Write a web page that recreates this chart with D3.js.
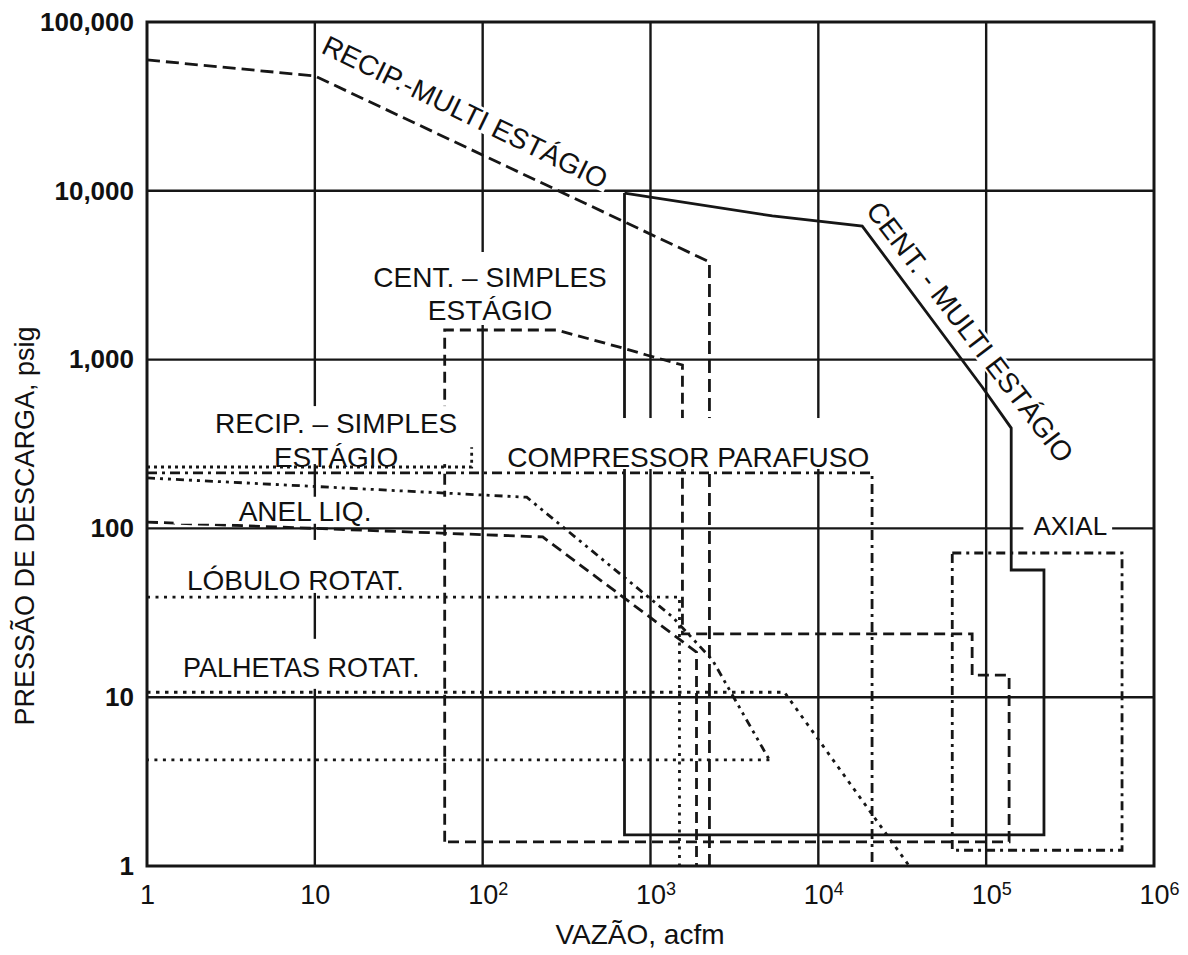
<!DOCTYPE html>
<html>
<head>
<meta charset="utf-8">
<script src="https://cdn.jsdelivr.net/npm/d3@7"></script>
<style>
  body { margin: 0; background: #fff; }
  text { font-family: "Liberation Sans", Arial, sans-serif; fill: #111; }
</style>
</head>
<body>
<svg id="chart" width="1188" height="955"></svg>
<script>
// Axis ticks
const xTicks = [1, 10, 100, 1000, 10000, 100000, 1000000];
const yTicks = [1, 10, 100, 1000, 10000, 100000];
const yTickLabels = ["1", "10", "100", "1,000", "10,000", "100,000"];

// Application envelopes, [flow acfm, discharge pressure psig]
const recipMulti = [[1, 59600], [10, 47900], [2245, 3790], [2245, 1]];
const centMulti = [[700, 9700], [5320, 7100], [18270, 6180], [94700, 688], [141000, 393],
  [141000, 56.7], [221000, 56.7], [221000, 1.53], [700, 1.53], [700, 9700]];
const centSimple = [[59.4, 1.39], [59.4, 1497], [276, 1497], [681, 1172], [946, 1065], [1550, 929],
  [1550, 23.7], [82500, 23.7], [82500, 13.5], [137000, 13.5], [137000, 1.39], [59.4, 1.39]];
const recipSimpleTop = [[1, 199], [183, 153], [1352, 29.9], [2340, 16.6], [5110, 4.25]];
const recipSimpleBase = [[5110, 4.25], [1, 4.25]];
const recipSimpleEdge = [[1, 231], [86, 231], [86, 303]];
const liquidRing = [[1, 109], [228, 89], [1880, 18.5], [1880, 1]];
const rotaryLobe = [[1, 39.2], [1488, 39.2], [1488, 1]];
const rotaryVane = [[1, 10.7], [6280, 10.7], [34800, 1]];
const screw = [[1, 213], [20900, 213], [20900, 1]];
const axial = [[62800, 71.5], [645000, 71.5], [645000, 1.24], [62800, 1.24], [62800, 71.5]];

const svg = d3.select("#chart");
const ink = "#161616";

// Log scales for both axes
const x = d3.scaleLog().domain([1, 1e6]).range([147, 1154]);
const y = d3.scaleLog().domain([1, 1e5]).range([866, 22]);

// Grid lines at every decade
svg.append("g")
  .selectAll("line")
  .data(xTicks.slice(1, -1))
  .join("line")
  .attr("x1", d => x(d)).attr("x2", d => x(d))
  .attr("y1", y(1e5)).attr("y2", y(1))
  .attr("stroke", ink).attr("stroke-width", 2.4);

svg.append("g")
  .selectAll("line")
  .data(yTicks.slice(1, -1))
  .join("line")
  .attr("x1", x(1)).attr("x2", x(1e6))
  .attr("y1", d => y(d)).attr("y2", d => y(d))
  .attr("stroke", ink).attr("stroke-width", 2.4);

// Envelope outlines
const line = d3.line().x(d => x(d[0])).y(d => y(d[1]));
const series = [
  { data: centMulti, dash: null },
  { data: recipMulti, dash: "13,6" },
  { data: centSimple, dash: "11,6" },
  { data: liquidRing, dash: "11,6" },
  { data: screw, dash: "10,5,3,5" },
  { data: axial, dash: "9,5,3,5" },
  { data: recipSimpleTop, dash: "8,5,3,5,3,5" },
  { data: recipSimpleBase, dash: "3,5.5" },
  { data: recipSimpleEdge, dash: "3,4" },
  { data: rotaryLobe, dash: "3,5.5" },
  { data: rotaryVane, dash: "3.5,5.5" }
];

svg.append("g")
  .selectAll("path")
  .data(series)
  .join("path")
  .attr("d", d => line(d.data))
  .attr("fill", "none")
  .attr("stroke", ink)
  .attr("stroke-width", 2.8)
  .attr("stroke-dasharray", d => d.dash);

// Labels sit on white boxes that hide the lines behind them
const labels = [
  { lines: ["RECIP.-MULTI ESTÁGIO"], at: [78.5, 29300], rotate: 26, size: 28, central: true, pad: [-3, 3, -4, 3] },
  { lines: ["CENT. - MULTI ESTÁGIO"], at: [80300, 1457], rotate: 52.5, size: 28, central: true, pad: [-3, 3, -4, 3] },
  { lines: ["CENT. – SIMPLES", "ESTÁGIO"], at: [110.7, 2692], size: 28, gap: 33, pad: [10, 5, -1, 5] },
  { lines: ["RECIP. – SIMPLES", "ESTÁGIO"], at: [13.4, 367], size: 28, gap: 34, pad: [2, 4, -9, 6] },
  { lines: ["COMPRESSOR PARAFUSO"], at: [140, 231], size: 28, anchor: "start", pad: [24, 10, -4, 8] },
  { lines: ["ANEL LIQ."], at: [8.74, 111], size: 28, pad: [-1, 101, -3, 65] },
  { lines: ["LÓBULO ROTAT."], at: [1.73, 43.2], size: 28, anchor: "start", pad: [25, 19, -3, 20] },
  { lines: ["PALHETAS ROTAT."], at: [1.64, 13.2], size: 27, anchor: "start", pad: [14, 21, 6, 20] },
  { lines: ["AXIAL"], at: [317000, 91.4], size: 26, pad: [0, 5, -2, 10] }
];

labels.forEach(cfg =>
{
  const g = svg.append("g")
    .attr("transform", `translate(${ x(cfg.at[0]) }, ${ y(cfg.at[1]) }) rotate(${ cfg.rotate || 0 })`);
  const box = g.append("rect").attr("fill", "#fff");
  const t = g.append("text")
    .attr("text-anchor", cfg.anchor || "middle")
    .style("font-size", `${ cfg.size }px`);
  cfg.lines.forEach((s, i) =>
    t.append("tspan").attr("x", 0).attr("dy", i === 0 ? (cfg.central ? "0.35em" : 0) : cfg.gap).text(s));
  const bb = t.node().getBBox();
  const [pt, pr, pb, pl] = cfg.pad;
  box.attr("x", bb.x - pl).attr("y", bb.y - pt)
    .attr("width", bb.width + pl + pr).attr("height", bb.height + pt + pb);
});

// Plot border
svg.append("rect")
  .attr("x", x(1)).attr("y", y(1e5))
  .attr("width", x(1e6) - x(1)).attr("height", y(1) - y(1e5))
  .attr("fill", "none").attr("stroke", ink).attr("stroke-width", 3);

// Y axis tick labels
const yAxis = svg.append("g")
  .attr("transform", `translate(${ x(1) }, 0)`)
  .call(d3.axisLeft(y).tickValues(yTicks).tickFormat((d, i) => yTickLabels[i]).tickSize(0).tickPadding(13));
yAxis.select(".domain").remove();
yAxis.selectAll("text")
  .style("font-family", "'Liberation Sans', Arial, sans-serif")
  .style("font-size", "26px")
  .style("font-weight", "bold")
  .attr("fill", "#111");

// X axis tick labels with superscript exponents
const xAxis = svg.append("g")
  .attr("transform", `translate(0, ${ y(1) })`)
  .call(d3.axisBottom(x).tickValues(xTicks).tickFormat(() => "").tickSize(0).tickPadding(19));
xAxis.select(".domain").remove();
xAxis.selectAll("text").each(function (d)
{
  const e = Math.round(Math.log10(d));
  const t = d3.select(this)
    .style("font-family", "'Liberation Sans', Arial, sans-serif")
    .style("font-size", "27px")
    .attr("fill", "#111");
  if (e < 2)
  {
    t.text(e === 0 ? "1" : "10");
    return;
  }
  t.attr("text-anchor", "start");
  const base = t.append("tspan").text("10");
  const w = base.node().getComputedTextLength();
  t.attr("x", -w / 2);
  t.append("tspan").attr("dy", "-0.5em").style("font-size", "18px").text(e);
});

// Axis titles
svg.append("text")
  .attr("x", 640).attr("y", 944)
  .attr("text-anchor", "middle")
  .style("font-size", "28px")
  .text("VAZÃO, acfm");

svg.append("text")
  .attr("transform", `translate(34, 526) rotate(-90)`)
  .attr("text-anchor", "middle")
  .style("font-size", "27px")
  .text("PRESSÃO DE DESCARGA, psig");
</script>
</body>
</html>
